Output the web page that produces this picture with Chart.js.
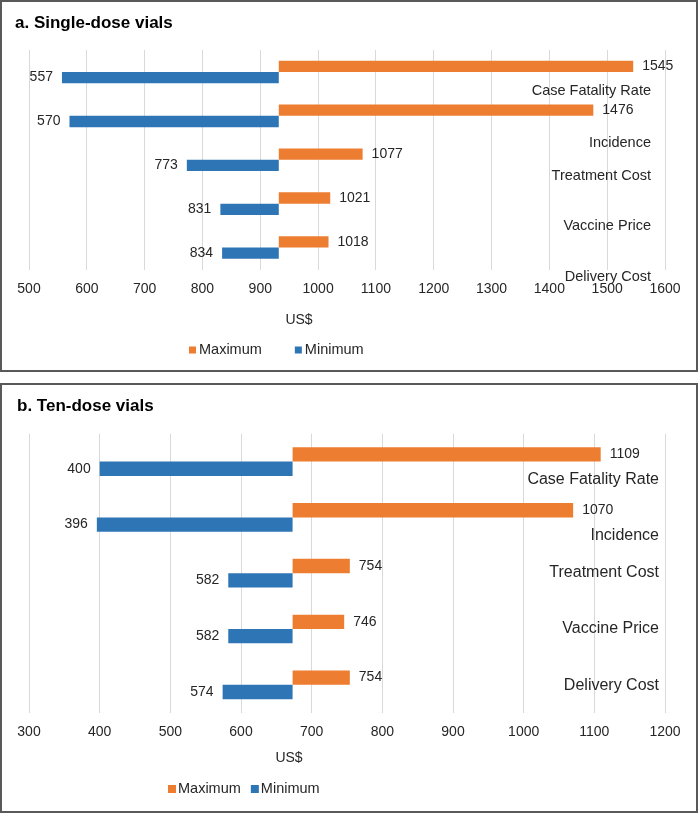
<!DOCTYPE html>
<html>
<head>
<meta charset="utf-8">
<script src="https://cdn.jsdelivr.net/npm/chart.js@4.4.1/dist/chart.umd.min.js"></script>
<style>
  body { margin: 0; background: #fff; }
  .panel { position: absolute; left: 0; width: 694px; border: 2px solid #595959; background: #fff; }
  #panelA { top: 0; height: 368px; }
  #panelB { top: 383px; height: 426px; }
</style>
</head>
<body>
<div class="panel" id="panelA"><canvas id="chartA"></canvas></div>
<div class="panel" id="panelB"><canvas id="chartB"></canvas></div>
<script>
const categories = ['Case Fatality Rate', 'Incidence', 'Treatment Cost', 'Vaccine Price', 'Delivery Cost'];

// a. single-dose vials
const singleBase = 932;
const singleMax = [1545, 1476, 1077, 1021, 1018];
const singleMin = [557, 570, 773, 831, 834];
const singleTicks = [500, 600, 700, 800, 900, 1000, 1100, 1200, 1300, 1400, 1500, 1600];

// b. ten-dose vials
const tenBase = 673;
const tenMax = [1109, 1070, 754, 746, 754];
const tenMin = [400, 396, 582, 582, 574];
const tenTicks = [300, 400, 500, 600, 700, 800, 900, 1000, 1100, 1200];

const FONT = '"Liberation Sans", Arial, sans-serif';
const TEXT = '#262626';
Chart.defaults.font.family = FONT;
Chart.defaults.color = TEXT;

// value labels, category names, axis title and legend
const tornadoText = {
  id: 'tornadoText',
  afterDatasetsDraw(chart, args, opts) {
    const ctx = chart.ctx;
    const xs = chart.scales.x;
    const ys = chart.scales.y;
    const maxMeta = chart.getDatasetMeta(0);
    const minMeta = chart.getDatasetMeta(1);
    ctx.save();
    ctx.fillStyle = TEXT;
    ctx.textBaseline = 'middle';
    ctx.font = `14px ${FONT}`;
    chart.data.labels.forEach((label, i) => {
      const hi = chart.data.datasets[0].data[i][1];
      const lo = chart.data.datasets[1].data[i][0];
      ctx.textAlign = 'left';
      ctx.fillText(String(hi), xs.getPixelForValue(hi) + 9, maxMeta.data[i].y);
      ctx.textAlign = 'right';
      ctx.fillText(String(lo), xs.getPixelForValue(lo) - 9, minMeta.data[i].y);
    });

    ctx.font = `${opts.catSize}px ${FONT}`;
    ctx.textAlign = 'right';
    chart.data.labels.forEach((label, i) => {
      ctx.fillText(label, opts.catRight, ys.getPixelForValue(i) + opts.catNudge[i]);
    });

    ctx.font = `14px ${FONT}`;
    ctx.textAlign = 'center';
    ctx.fillText(opts.axisTitle, opts.axisTitleX, opts.axisTitleY);

    let lx = opts.legendX;
    ctx.font = `14.5px ${FONT}`;
    ctx.textAlign = 'left';
    chart.data.datasets.forEach(ds => {
      ctx.fillStyle = ds.backgroundColor;
      ctx.fillRect(lx, opts.legendY - opts.legendBox / 2, opts.legendBox, opts.legendBox);
      lx += opts.legendBox + opts.legendBoxGap;
      ctx.fillStyle = TEXT;
      ctx.fillText(ds.label, lx, opts.legendY);
      lx += ctx.measureText(ds.label).width + opts.legendItemGap;
    });
    ctx.restore();
  }
};

function tornado(canvasId, cfg) {
  return new Chart(document.getElementById(canvasId), {
    type: 'bar',
    data: {
      labels: categories,
      datasets: [
        { label: 'Maximum', data: cfg.max.map(v => [cfg.base, v]), backgroundColor: '#ED7D31' },
        { label: 'Minimum', data: cfg.min.map(v => [v, cfg.base]), backgroundColor: '#2E75B6' }
      ]
    },
    options: {
      indexAxis: 'y',
      responsive: true,
      maintainAspectRatio: false,
      animation: false,
      layout: { padding: { left: cfg.padLeft, right: 31, top: 0, bottom: cfg.padBottom } },
      datasets: { bar: { categoryPercentage: 0.515, barPercentage: 1, borderWidth: 0 } },
      scales: {
        x: {
          min: cfg.ticks[0],
          max: cfg.ticks[cfg.ticks.length - 1],
          afterBuildTicks: scale => { scale.ticks = cfg.ticks.map(v => ({ value: v })); },
          ticks: { padding: 11, font: { size: 14 }, color: TEXT, callback: v => String(v) },
          grid: { color: '#d9d9d9', drawTicks: false },
          border: { display: false }
        },
        y: {
          ticks: { display: false },
          grid: { display: false },
          border: { display: false },
          afterFit: scale => { scale.width = 27 - cfg.padLeft; }
        }
      },
      plugins: {
        legend: { display: false },
        tooltip: { enabled: false },
        title: {
          display: true,
          text: cfg.title,
          align: 'start',
          color: '#000',
          font: { size: 17, weight: 'bold' },
          padding: { top: 11, bottom: cfg.titleBottom }
        },
        tornadoText: cfg.text
      }
    },
    plugins: [tornadoText]
  });
}

tornado('chartA', {
  title: 'a. Single-dose vials',
  base: singleBase, max: singleMax, min: singleMin, ticks: singleTicks,
  padLeft: 13, padBottom: 61.7, titleBottom: 16.6,
  text: {
    catSize: 14.5, catRight: 649, catNudge: [19.5, 27.5, 16, 22.5, 29.5],
    axisTitle: 'US$', axisTitleX: 297, axisTitleY: 318,
    legendX: 187, legendY: 348, legendBox: 7, legendBoxGap: 3, legendItemGap: 33
  }
});

tornado('chartB', {
  title: 'b. Ten-dose vials',
  base: tenBase, max: tenMax, min: tenMin, ticks: tenTicks,
  padLeft: 15, padBottom: 59.5, titleBottom: 17.3,
  text: {
    catSize: 16, catRight: 657, catNudge: [18.3, 18.3, -0.7, -0.3, 0.3],
    axisTitle: 'US$', axisTitleX: 287, axisTitleY: 373,
    legendX: 166, legendY: 404, legendBox: 8, legendBoxGap: 2, legendItemGap: 10
  }
});
</script>
</body>
</html>
